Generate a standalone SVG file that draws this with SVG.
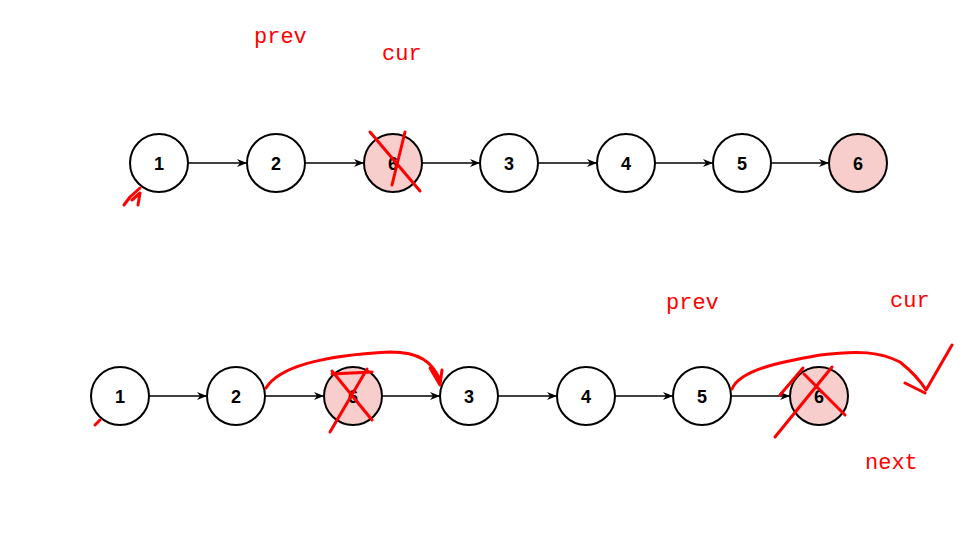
<svg xmlns="http://www.w3.org/2000/svg" width="967" height="553" viewBox="0 0 967 553">
<style>
.n{fill:#fff;stroke:#000;stroke-width:2}
.d{fill:#f8cecc;stroke:#000;stroke-width:2}
.t{font-family:"Liberation Sans",Arial,sans-serif;font-weight:bold;font-size:18px;text-anchor:middle}
.e{stroke:#000;stroke-width:1.5;fill:none;marker-end:url(#a)}
.r{stroke:#f00;stroke-width:3;fill:none;stroke-linecap:round;stroke-linejoin:round}
.l{font-family:"Liberation Mono","Courier New",monospace;font-size:22px;fill:#f00}
</style>
<defs><marker id="a" markerWidth="10" markerHeight="8" refX="9" refY="4" orient="auto" markerUnits="userSpaceOnUse"><path d="M0,0L10,4L0,8L3,4z"/></marker></defs>
<rect width="967" height="553" fill="#fff"/>
<g id="connectors">
<line class="e" x1="188" y1="163" x2="246" y2="163"/><line class="e" x1="305" y1="163" x2="363" y2="163"/><line class="e" x1="422" y1="163" x2="479" y2="163"/><line class="e" x1="538" y1="163" x2="596" y2="163"/><line class="e" x1="655" y1="163" x2="712" y2="163"/><line class="e" x1="771" y1="163" x2="828" y2="163"/>
<line class="e" x1="149" y1="396" x2="206" y2="396"/><line class="e" x1="265" y1="396" x2="323" y2="396"/><line class="e" x1="382" y1="396" x2="439" y2="396"/><line class="e" x1="498" y1="396" x2="556" y2="396"/><line class="e" x1="615" y1="396" x2="672" y2="396"/><line class="e" x1="731" y1="396" x2="789" y2="396"/>
</g>
<g id="top">
<g id="t1"><circle class="n" cx="159" cy="163" r="29"/><text class="t" x="159" y="170">1</text></g>
<g id="t2"><circle class="n" cx="276" cy="163" r="29"/><text class="t" x="276" y="170">2</text></g>
<g id="t3"><circle class="d" cx="393" cy="163" r="29"/><text class="t" x="393" y="170">6</text></g>
<g id="t4"><circle class="n" cx="509" cy="163" r="29"/><text class="t" x="509" y="170">3</text></g>
<g id="t5"><circle class="n" cx="626" cy="163" r="29"/><text class="t" x="626" y="170">4</text></g>
<g id="t6"><circle class="n" cx="742" cy="163" r="29"/><text class="t" x="742" y="170">5</text></g>
<g id="t7"><circle class="d" cx="858" cy="163" r="29"/><text class="t" x="858" y="170">6</text></g>
</g>
<g id="bottom">
<g id="b1"><circle class="n" cx="120" cy="396" r="29"/><text class="t" x="120" y="403">1</text></g>
<g id="b2"><circle class="n" cx="236" cy="396" r="29"/><text class="t" x="236" y="403">2</text></g>
<g id="b3"><circle class="d" cx="353" cy="396" r="29"/><text class="t" x="353" y="403">6</text></g>
<g id="b4"><circle class="n" cx="469" cy="396" r="29"/><text class="t" x="469" y="403">3</text></g>
<g id="b5"><circle class="n" cx="586" cy="396" r="29"/><text class="t" x="586" y="403">4</text></g>
<g id="b6"><circle class="n" cx="702" cy="396" r="29"/><text class="t" x="702" y="403">5</text></g>
<g id="b7"><circle class="d" cx="819" cy="396" r="29"/><text class="t" x="819" y="403">6</text></g>
</g>
<g id="annotations">
<text class="l" x="254" y="43">prev</text>
<text class="l" x="382" y="60">cur</text>
<text class="l" x="666" y="309">prev</text>
<text class="l" x="890" y="307">cur</text>
<text class="l" x="865" y="469">next</text>
<path class="r" d="M370,132L420,191M405,132L392,185"/>
<path class="r" d="M140,188L130,197L124,205M132,200L140,193L138,205"/>
<path class="r" d="M332,374L372,372M367,369L330,432M332,371L372,420"/>
<path class="r" d="M266,388C280,365 330,355 390,352C420,352 432,362 440,380M430,368L440,385L442,370"/>
<path class="r" d="M732,389C740,370 780,362 820,355C860,350 880,352 900,362C910,370 920,380 926,390L952,345M905,383L925,393"/>
<path class="r" d="M803,368L780,395M775,437L832,367M804,374L845,415"/>
<path class="r" d="M100,420L95,425"/>
</g>
</svg>
